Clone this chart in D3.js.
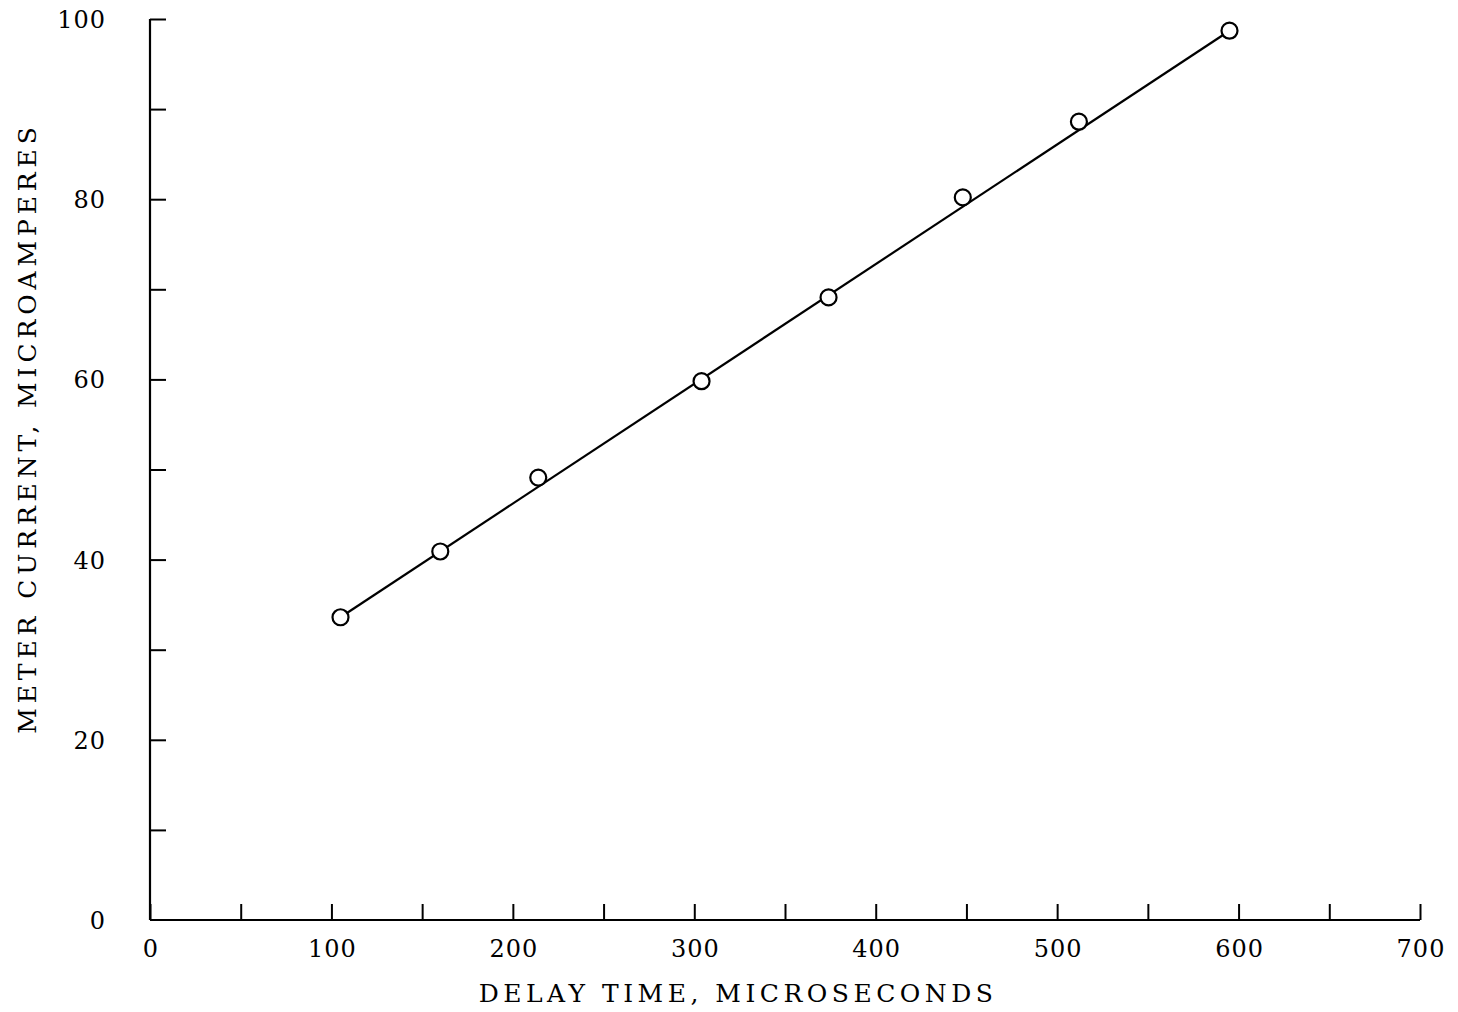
<!DOCTYPE html>
<html>
<head>
    <script src="https://d3js.org/d3.v7.min.js"></script>
    <style>
        body { margin: 0; background: #fff; }
    </style>
</head>
<body>
<div id="chart"></div>
<script>
    const delayTimes = [105, 160, 214, 304, 374, 448, 512, 595];
    const meterCurrents = [33.6, 40.9, 49.1, 59.8, 69.1, 80.2, 88.6, 98.7];

    // straight line drawn through the points
    const fitX = [105, 595];
    const fitY = [33.6, 98.7];

    const xTickLabels = [0, 100, 200, 300, 400, 500, 600, 700];
    const xTicks = [0, 50, 100, 150, 200, 250, 300, 350, 400, 450, 500, 550, 600, 650, 700];
    const yTickLabels = [0, 20, 40, 60, 80, 100];
    const yTicks = [10, 20, 30, 40, 50, 60, 70, 80, 90, 100];

    const W = 1458, H = 1012;
    const margin = { top: 19, right: 38, bottom: 92, left: 150 };
    const width = W - margin.left - margin.right, height = H - margin.top - margin.bottom;

    const svg = d3.select("#chart").append("svg")
        .attr("width", W).attr("height", H)
        .append("g")
        .attr("transform", `translate(${margin.left},${margin.top})`);

    const x = d3.scaleLinear().domain([0, 700]).range([0, width]);
    const y = d3.scaleLinear().domain([0, 100]).range([height, 0]);

    const font = "'DejaVu Serif', serif";

    // x axis, ticks pointing up into the plot
    const xAxis = svg.append("g")
        .attr("transform", `translate(0,${height})`)
        .call(d3.axisBottom(x).tickValues(xTicks).tickSize(-16).tickFormat(""));
    xAxis.select(".domain").attr("d", `M0,0H${width}`).attr("stroke-width", 2.2);
    xAxis.selectAll(".tick line").attr("stroke-width", 2);

    // y axis, ticks pointing right into the plot
    const yAxis = svg.append("g")
        .call(d3.axisLeft(y).tickValues(yTicks).tickSize(-16).tickFormat(""));
    yAxis.select(".domain").attr("d", `M0,${height}V0`).attr("stroke-width", 2.2);
    yAxis.selectAll(".tick line").attr("stroke-width", 2);

    svg.append("g").selectAll("text")
        .data(xTickLabels)
        .join("text")
        .attr("x", d => x(d) + 1)
        .attr("y", height + 37)
        .attr("text-anchor", "middle")
        .style("font-family", font)
        .style("font-size", "24px")
        .style("letter-spacing", "1px")
        .text(d => d);

    svg.append("g").selectAll("text")
        .data(yTickLabels)
        .join("text")
        .attr("x", -44)
        .attr("y", d => y(d) + 9)
        .attr("text-anchor", "end")
        .style("font-family", font)
        .style("font-size", "24px")
        .style("letter-spacing", "1px")
        .text(d => d);

    // axis titles
    svg.append("text")
        .attr("x", 588)
        .attr("y", height + 82)
        .attr("text-anchor", "middle")
        .style("font-family", font)
        .style("font-size", "25px")
        .style("letter-spacing", "4.5px")
        .text("DELAY TIME, MICROSECONDS");

    svg.append("text")
        .attr("transform", "rotate(-90)")
        .attr("x", -409)
        .attr("y", -114)
        .attr("text-anchor", "middle")
        .style("font-family", font)
        .style("font-size", "25px")
        .style("letter-spacing", "4.9px")
        .text("METER CURRENT, MICROAMPERES");

    // line
    const fitData = fitX.map((d, i) => ({ x: d, y: fitY[i] }));
    svg.append("path")
        .datum(fitData)
        .attr("fill", "none")
        .attr("stroke", "#000")
        .attr("stroke-width", 2.2)
        .attr("d", d3.line().x(d => x(d.x)).y(d => y(d.y)));

    // open circle markers
    const pts = delayTimes.map((d, i) => ({ x: d, y: meterCurrents[i] }));
    svg.append("g").selectAll("circle")
        .data(pts)
        .join("circle")
        .attr("cx", d => x(d.x))
        .attr("cy", d => y(d.y))
        .attr("r", 8)
        .attr("fill", "#fff")
        .attr("stroke", "#000")
        .attr("stroke-width", 2.2);
</script>
</body>
</html>
